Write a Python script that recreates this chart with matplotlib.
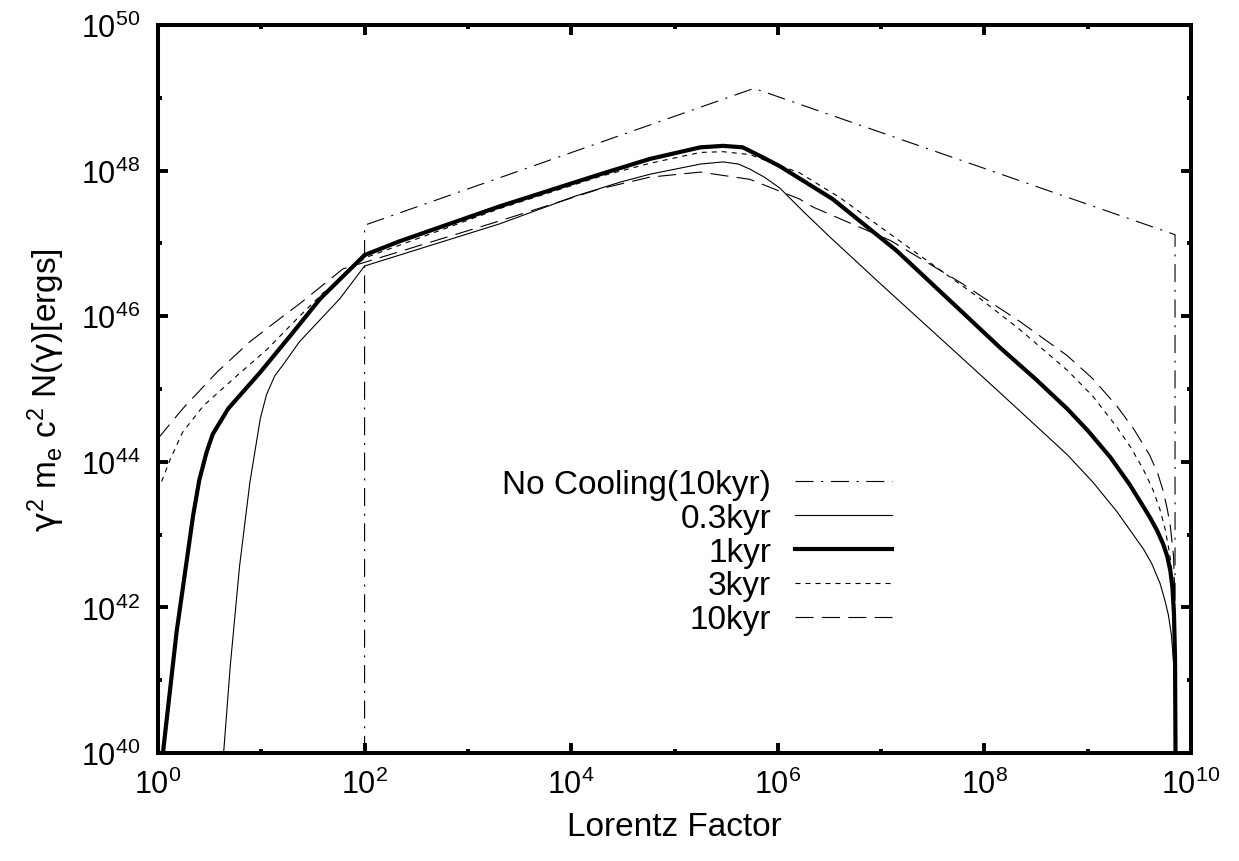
import matplotlib
matplotlib.use('Agg')
import matplotlib.pyplot as plt
import numpy as np
from matplotlib.ticker import FixedLocator, FuncFormatter, NullFormatter

plt.rcParams['font.family'] = ['Liberation Sans', 'DejaVu Sans']
plt.rcParams['mathtext.fontset'] = 'custom'
plt.rcParams['mathtext.rm'] = 'Liberation Sans'
plt.rcParams['mathtext.it'] = 'Liberation Sans:italic'
plt.rcParams['mathtext.sf'] = 'DejaVu Sans'
plt.rcParams['mathtext.default'] = 'regular'
plt.rcParams['lines.scale_dashes'] = False

# values as log10: (log10 gamma, log10 gamma^2 m_e c^2 N)
nocool_lg = [2.0, 2.0, 5.77, 9.845, 9.845]
nocool_ln = [39.5, 47.25, 49.13, 47.12, 39.5]

kyr03_lg = [0.63, 0.70, 0.79, 0.89, 0.99, 1.05, 1.13, 1.22, 1.37, 1.76, 2.0, 3.31, 4.04, 4.47,
            4.76, 5.25, 5.47, 5.62, 5.73, 5.87, 6.02, 6.26, 6.51, 6.99, 7.64, 8.15, 8.80, 9.05,
            9.28, 9.54, 9.62, 9.70, 9.75, 9.78, 9.81, 9.83, 9.845, 9.85]
kyr03_ln = [39.9, 41.20, 42.57, 43.72, 44.59, 44.92, 45.18, 45.35, 45.65, 46.24, 46.69, 47.27, 47.65, 47.84,
            47.95, 48.09, 48.12, 48.09, 48.02, 47.91, 47.76, 47.42, 47.08, 46.45, 45.61, 44.95, 44.10, 43.72,
            43.32, 42.80, 42.60, 42.33, 42.08, 41.90, 41.62, 41.25, 40.5, 39.9]

kyr1_lg = [0.04, 0.18, 0.34, 0.40, 0.47, 0.53, 0.62, 0.68, 0.76, 0.99, 1.28, 1.57, 2.0, 2.34, 3.31, 4.28,
           4.76, 5.25, 5.47, 5.66, 5.83, 6.02, 6.53, 7.15, 7.79, 8.15, 8.50, 8.80, 9.0, 9.22, 9.40, 9.51,
           9.60, 9.67, 9.73, 9.77, 9.80, 9.82, 9.835, 9.845, 9.85]
kyr1_ln = [39.9, 41.66, 43.26, 43.75, 44.13, 44.38, 44.59, 44.73, 44.86, 45.23, 45.73, 46.24, 46.84, 47.03, 47.51, 47.95,
           48.16, 48.32, 48.34, 48.32, 48.20, 48.06, 47.61, 46.90, 46.05, 45.57, 45.13, 44.73, 44.43, 44.06, 43.70, 43.45,
           43.24, 43.06, 42.87, 42.70, 42.50, 42.27, 41.9, 41.3, 39.9]

kyr3_lg = [0.0, 0.12, 0.24, 0.44, 0.73, 1.06, 1.37, 1.6, 2.0, 3.31, 4.28, 4.76, 5.25,
           5.47, 5.73, 6.21, 6.60, 7.31, 7.96, 8.34, 8.80, 9.05, 9.28, 9.42, 9.54, 9.63, 9.70,
           9.75, 9.79, 9.82, 9.835, 9.845, 9.85]
kyr3_ln = [43.6, 44.04, 44.41, 44.77, 45.14, 45.55, 46.00, 46.32, 46.80, 47.48, 47.92, 48.10, 48.25,
           48.26, 48.22, 47.97, 47.63, 46.90, 46.24, 45.82, 45.26, 44.90, 44.48, 44.19, 43.89, 43.62, 43.34,
           43.07, 42.76, 42.45, 42.1, 41.3, 39.9]

kyr10_lg = [0.0, 0.24, 0.57, 0.89, 1.21, 1.37, 1.79, 2.0, 3.31, 4.28, 4.76, 5.25, 5.73,
            6.21, 6.34, 7.09, 7.76, 8.34, 8.80, 9.05, 9.28, 9.45, 9.60, 9.68, 9.73, 9.77,
            9.80, 9.83, 9.84, 9.85]
kyr10_ln = [44.32, 44.73, 45.23, 45.65, 46.00, 46.17, 46.65, 46.74, 47.31, 47.75, 47.91, 47.98, 47.88,
            47.61, 47.50, 47.04, 46.47, 45.93, 45.46, 45.14, 44.77, 44.44, 44.09, 43.83, 43.60, 43.35,
            43.11, 42.71, 42.3, 39.9]

labels = ['No Cooling(10kyr)', '0.3kyr', '1kyr', '3kyr', '10kyr']

x_major = [0, 2, 4, 6, 8, 10]
x_minor = [1, 3, 5, 7, 9]
y_major = [40, 42, 44, 46, 48, 50]
y_minor = [41, 43, 45, 47, 49]


def p(v):
    return 10.0 ** np.array(v)


fig = plt.figure(figsize=(12.39, 8.62), dpi=100)
ax = fig.add_axes([0.1275, 0.1253, 0.8338, 0.8445])

l0, = ax.plot(p(nocool_lg), p(nocool_ln), color='black', lw=0.8, dashes=(13, 5.5, 1.5, 5.5))
l1, = ax.plot(p(kyr03_lg), p(kyr03_ln), color='black', lw=0.8)
l2, = ax.plot(p(kyr1_lg), p(kyr1_ln), color='black', lw=3.0, solid_joinstyle='round')
l3, = ax.plot(p(kyr3_lg), p(kyr3_ln), color='black', lw=0.8, dashes=(3.6, 3.6))
l4, = ax.plot(p(kyr10_lg), p(kyr10_ln), color='black', lw=0.8, dashes=(13, 6))

ax.set_xscale('log')
ax.set_yscale('log')
ax.set_xlim(1e0, 1e10)
ax.set_ylim(1e40, 1e50)

ax.xaxis.set_major_locator(FixedLocator(p(x_major)))
ax.xaxis.set_minor_locator(FixedLocator(p(x_minor)))
ax.yaxis.set_major_locator(FixedLocator(p(y_major)))
ax.yaxis.set_minor_locator(FixedLocator(p(y_minor)))
fmt = FuncFormatter(lambda v, pos: r'$10^{%d}$' % int(round(np.log10(v))))
ax.xaxis.set_major_formatter(fmt)
ax.yaxis.set_major_formatter(fmt)
ax.xaxis.set_minor_formatter(NullFormatter())
ax.yaxis.set_minor_formatter(NullFormatter())

ax.tick_params(which='both', direction='in', top=True, right=True, width=2.8, labelsize=22)
ax.tick_params(which='major', length=7)
ax.tick_params(which='minor', length=3)
ax.tick_params(axis='x', which='major', pad=11)
ax.tick_params(axis='y', which='major', pad=13)
for s in ax.spines.values():
    s.set_linewidth(2.9)

ax.set_xlabel('Lorentz Factor', fontsize=24, labelpad=8)
ax.set_ylabel(r'$\mathsf{\gamma}^2\ m_e\ c^2\ N(\mathsf{\gamma})[ergs]$', fontsize=24, labelpad=10)

ax.legend([l0, l1, l2, l3, l4], labels, loc='upper right', bbox_to_anchor=(0.7106, 0.3904),
          frameon=False, markerfirst=False, fontsize=24, handlelength=2.9,
          handletextpad=0.73, labelspacing=0.086, borderpad=0, borderaxespad=0)

fig.savefig('out.png', dpi=100)
